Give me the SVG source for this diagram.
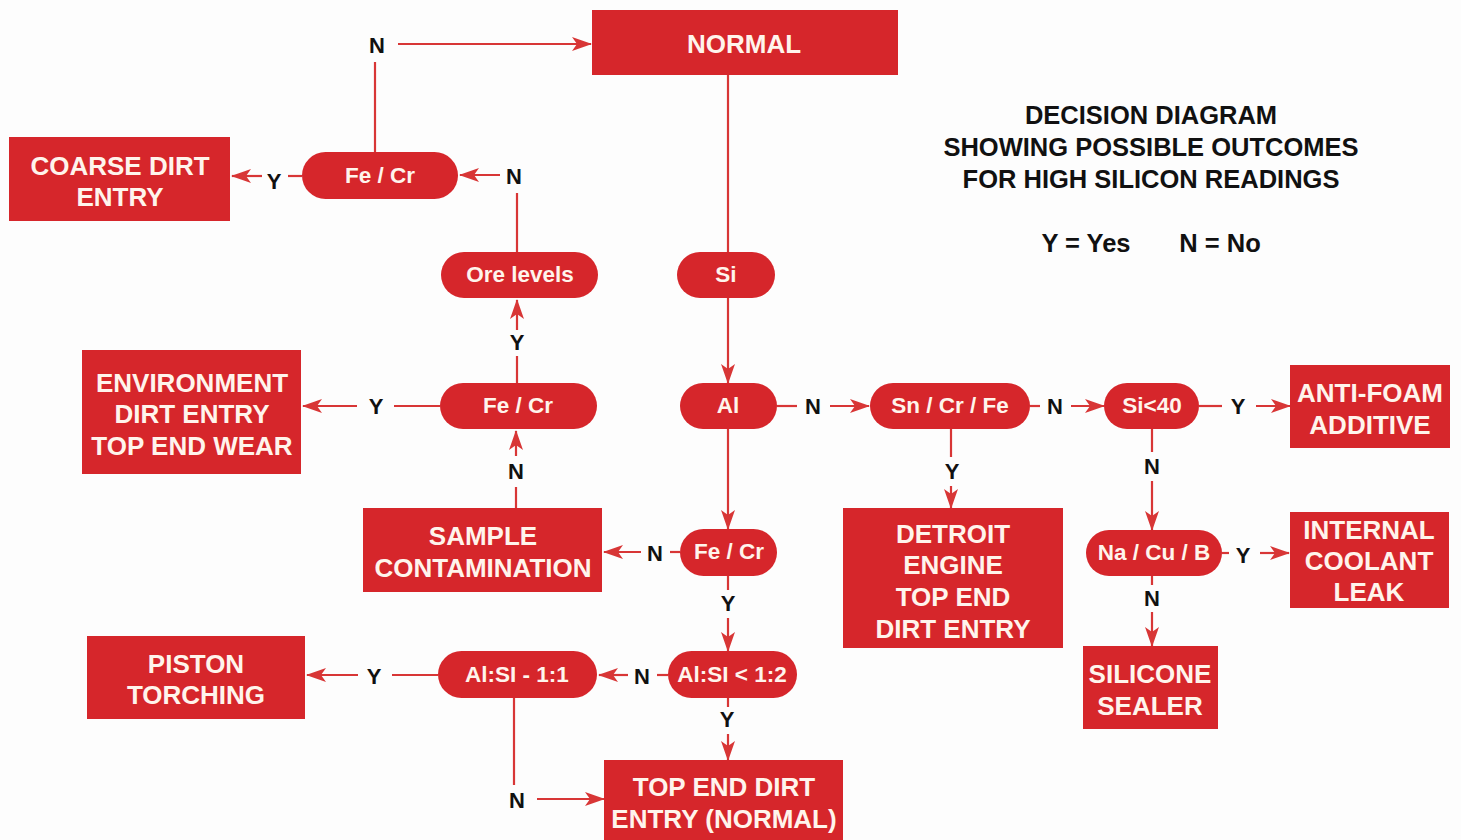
<svg xmlns="http://www.w3.org/2000/svg" width="1461" height="840" viewBox="0 0 1461 840">
<style>
.box{fill:#d6262b}
.pill{fill:#d6262b}
.bt{font-family:"Liberation Sans",Arial,sans-serif;font-weight:bold;font-size:26px;fill:#fff4ec;text-anchor:middle}
.pt{font-family:"Liberation Sans",Arial,sans-serif;font-weight:bold;font-size:22.5px;fill:#fff4ec;text-anchor:middle}
.lb{font-family:"Liberation Sans",Arial,sans-serif;font-weight:bold;font-size:22px;fill:#111;text-anchor:middle}
.tt{font-family:"Liberation Sans",Arial,sans-serif;font-weight:bold;font-size:25.5px;fill:#111;text-anchor:middle}
.ln{stroke:#d83636;stroke-width:2.2;fill:none}
.ar{stroke:#d83636;stroke-width:2.2;fill:none;marker-end:url(#ah)}
</style>
<defs>
<marker id="ah" markerUnits="userSpaceOnUse" markerWidth="20" markerHeight="14" refX="19" refY="7" orient="auto">
<path d="M0,0 L20,7 L0,14 L5,7 Z" fill="#d83636"/>
</marker>
</defs>
<rect width="1461" height="840" fill="#fdfdfd"/>

<g id="connectors">
<line class="ln" x1="375" y1="152" x2="375" y2="62"/>
<line class="ar" x1="398" y1="44" x2="591" y2="44"/>
<line class="ln" x1="302" y1="176" x2="288" y2="176"/>
<line class="ar" x1="262" y1="176" x2="232" y2="176"/>
<line class="ln" x1="517" y1="252" x2="517" y2="193"/>
<line class="ar" x1="500" y1="175" x2="460" y2="175"/>
<line class="ln" x1="728" y1="75" x2="728" y2="252"/>
<line class="ar" x1="728" y1="298" x2="728" y2="383"/>
<line class="ln" x1="517" y1="383" x2="517" y2="356"/>
<line class="ar" x1="517" y1="330" x2="517" y2="300"/>
<line class="ln" x1="440" y1="406" x2="394" y2="406"/>
<line class="ar" x1="357" y1="406" x2="303" y2="406"/>
<line class="ln" x1="516" y1="508" x2="516" y2="487"/>
<line class="ar" x1="516" y1="456" x2="516" y2="431"/>
<line class="ar" x1="728" y1="429" x2="728" y2="529"/>
<line class="ln" x1="680" y1="552" x2="670" y2="552"/>
<line class="ar" x1="641" y1="552" x2="604" y2="552"/>
<line class="ln" x1="728" y1="576" x2="728" y2="590"/>
<line class="ar" x1="728" y1="618" x2="728" y2="651"/>
<line class="ln" x1="668" y1="675" x2="657" y2="675"/>
<line class="ar" x1="628" y1="675" x2="599" y2="675"/>
<line class="ln" x1="438" y1="675" x2="392" y2="675"/>
<line class="ar" x1="358" y1="675" x2="307" y2="675"/>
<line class="ln" x1="514" y1="698" x2="514" y2="785"/>
<line class="ar" x1="537" y1="799" x2="604" y2="799"/>
<line class="ln" x1="728" y1="698" x2="728" y2="707"/>
<line class="ar" x1="728" y1="734" x2="728" y2="760"/>
<line class="ln" x1="777" y1="406" x2="797" y2="406"/>
<line class="ar" x1="830" y1="406" x2="869" y2="406"/>
<line class="ln" x1="1030" y1="406" x2="1040" y2="406"/>
<line class="ar" x1="1071" y1="406" x2="1104" y2="406"/>
<line class="ln" x1="1199" y1="406" x2="1222" y2="406"/>
<line class="ar" x1="1256" y1="406" x2="1290" y2="406"/>
<line class="ln" x1="951" y1="429" x2="951" y2="457"/>
<line class="ar" x1="951" y1="486" x2="951" y2="508"/>
<line class="ln" x1="1152" y1="429" x2="1152" y2="452"/>
<line class="ar" x1="1152" y1="481" x2="1152" y2="530"/>
<line class="ln" x1="1222" y1="553" x2="1229" y2="553"/>
<line class="ar" x1="1260" y1="553" x2="1289" y2="553"/>
<line class="ln" x1="1152" y1="576" x2="1152" y2="585"/>
<line class="ar" x1="1152" y1="612" x2="1152" y2="646"/>
<g id="labels">
<text class="lb" x="377" y="53">N</text>
<text class="lb" x="274" y="189">Y</text>
<text class="lb" x="514" y="184">N</text>
<text class="lb" x="517" y="350">Y</text>
<text class="lb" x="376" y="414">Y</text>
<text class="lb" x="516" y="479">N</text>
<text class="lb" x="655" y="561">N</text>
<text class="lb" x="728" y="611">Y</text>
<text class="lb" x="642" y="684">N</text>
<text class="lb" x="374" y="684">Y</text>
<text class="lb" x="517" y="808">N</text>
<text class="lb" x="727" y="727">Y</text>
<text class="lb" x="813" y="414">N</text>
<text class="lb" x="1055" y="414">N</text>
<text class="lb" x="1238" y="414">Y</text>
<text class="lb" x="952" y="479">Y</text>
<text class="lb" x="1152" y="474">N</text>
<text class="lb" x="1243" y="563">Y</text>
<text class="lb" x="1152" y="606">N</text>
</g>
</g>

<g id="normal"><rect class="box" x="592" y="10" width="306" height="65"/><text class="bt" x="744" y="53">NORMAL</text></g>
<g id="coarse"><rect class="box" x="9" y="137" width="221" height="84"/><text class="bt" x="120" y="175">COARSE DIRT</text><text class="bt" x="120" y="206">ENTRY</text></g>
<g id="fecr-top"><rect class="pill" x="302" y="152" width="156" height="47" rx="23.5"/><text class="pt" x="380" y="183">Fe / Cr</text></g>
<g id="ore"><rect class="pill" x="441" y="252" width="157" height="46" rx="23"/><text class="pt" x="520" y="282">Ore levels</text></g>
<g id="si"><rect class="pill" x="677" y="252" width="98" height="46" rx="23"/><text class="pt" x="726" y="282">Si</text></g>
<g id="env"><rect class="box" x="82" y="350" width="219" height="124"/><text class="bt" x="192" y="392">ENVIRONMENT</text><text class="bt" x="192" y="423">DIRT ENTRY</text><text class="bt" x="192" y="455">TOP END WEAR</text></g>
<g id="fecr-mid"><rect class="pill" x="440" y="383" width="157" height="46" rx="23"/><text class="pt" x="518" y="413">Fe / Cr</text></g>
<g id="al"><rect class="pill" x="680" y="383" width="97" height="46" rx="23"/><text class="pt" x="728" y="413">Al</text></g>
<g id="sncrfe"><rect class="pill" x="870" y="383" width="160" height="46" rx="23"/><text class="pt" x="950" y="413">Sn / Cr / Fe</text></g>
<g id="si40"><rect class="pill" x="1104" y="383" width="95" height="46" rx="23"/><text class="pt" x="1152" y="413">Si&lt;40</text></g>
<g id="antifoam"><rect class="box" x="1290" y="365" width="160" height="83"/><text class="bt" x="1370" y="402">ANTI-FOAM</text><text class="bt" x="1370" y="434">ADDITIVE</text></g>
<g id="sample"><rect class="box" x="363" y="508" width="239" height="84"/><text class="bt" x="483" y="545">SAMPLE</text><text class="bt" x="483" y="577">CONTAMINATION</text></g>
<g id="fecr-low"><rect class="pill" x="680" y="529" width="97" height="47" rx="23.5"/><text class="pt" x="729" y="559">Fe / Cr</text></g>
<g id="detroit"><rect class="box" x="843" y="508" width="220" height="140"/><text class="bt" x="953" y="543">DETROIT</text><text class="bt" x="953" y="574">ENGINE</text><text class="bt" x="953" y="606">TOP END</text><text class="bt" x="953" y="638">DIRT ENTRY</text></g>
<g id="nacub"><rect class="pill" x="1086" y="530" width="136" height="46" rx="23"/><text class="pt" x="1154" y="560">Na / Cu / B</text></g>
<g id="coolant"><rect class="box" x="1290" y="512" width="159" height="96"/><text class="bt" x="1369" y="539">INTERNAL</text><text class="bt" x="1369" y="570">COOLANT</text><text class="bt" x="1369" y="601">LEAK</text></g>
<g id="silicone"><rect class="box" x="1083" y="646" width="135" height="83"/><text class="bt" x="1150" y="683">SILICONE</text><text class="bt" x="1150" y="715">SEALER</text></g>
<g id="piston"><rect class="box" x="87" y="636" width="218" height="83"/><text class="bt" x="196" y="673">PISTON</text><text class="bt" x="196" y="704">TORCHING</text></g>
<g id="alsi11"><rect class="pill" x="438" y="651" width="159" height="47" rx="23.5"/><text class="pt" x="517" y="682">Al:SI - 1:1</text></g>
<g id="alsi12"><rect class="pill" x="668" y="651" width="129" height="47" rx="23.5"/><text class="pt" x="732" y="682">Al:SI &lt; 1:2</text></g>
<g id="topend"><rect class="box" x="604" y="760" width="239" height="80"/><text class="bt" x="724" y="796">TOP END DIRT</text><text class="bt" x="724" y="828">ENTRY (NORMAL)</text></g>

<g id="title">
<text class="tt" x="1151" y="124">DECISION DIAGRAM</text>
<text class="tt" x="1151" y="156">SHOWING POSSIBLE OUTCOMES</text>
<text class="tt" x="1151" y="188">FOR HIGH SILICON READINGS</text>
<text class="tt" x="1086" y="252">Y = Yes</text>
<text class="tt" x="1220" y="252">N = No</text>
</g>
</svg>
